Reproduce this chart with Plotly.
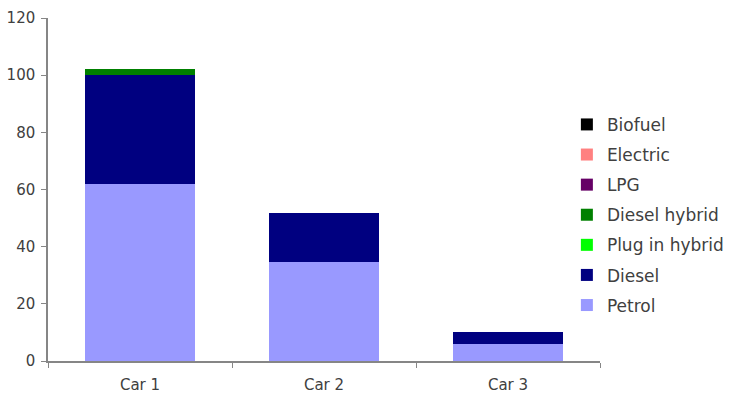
import plotly.graph_objects as go

categories = ["Car 1", "Car 2", "Car 3"]
petrol = [62, 34.6, 6]
diesel = [38, 17.2, 4.2]
plug_in_hybrid = [0, 0, 0]
diesel_hybrid = [2, 0, 0]
lpg = [0, 0, 0]
electric = [0, 0, 0]
biofuel = [0, 0, 0]

# stacked bottom to top; legend lists them top to bottom (rank)
series = [
    ("Petrol", petrol, "#9999FF", 7),
    ("Diesel", diesel, "#000080", 6),
    ("Plug in hybrid", plug_in_hybrid, "#00FF00", 5),
    ("Diesel hybrid", diesel_hybrid, "#008000", 4),
    ("LPG", lpg, "#660066", 3),
    ("Electric", electric, "#FF8080", 2),
    ("Biofuel", biofuel, "#000000", 1),
]

FONT = "'DejaVu Sans', sans-serif"
TEXT = "#404040"
AXIS = "#868686"

fig = go.Figure()
for name, vals, color, rank in series:
    fig.add_trace(go.Bar(
        x=categories, y=vals, name=name, legendgroup=name, legendrank=rank,
        marker=dict(color=color, line=dict(width=0)),
    ))

fig.update_layout(
    width=730, height=397,
    barmode="stack", bargap=0.4,
    plot_bgcolor="white", paper_bgcolor="white",
    margin=dict(l=48, r=130, t=18, b=36, autoexpand=False),
    font=dict(family=FONT, color=TEXT, size=15),
    showlegend=True,
    legend=dict(
        traceorder="grouped", tracegroupgap=5,
        x=0.94, xanchor="left", y=0.426, yanchor="middle",
        font=dict(size=17, color=TEXT, family=FONT),
        bgcolor="rgba(0,0,0,0)",
    ),
)
fig.update_xaxes(
    showline=True, linecolor=AXIS, linewidth=1.5,
    ticks="outside", tickson="boundaries", ticklen=5, tickcolor=AXIS,
    ticklabelstandoff=9,
    tickfont=dict(size=15, color=TEXT), showgrid=False,
)
fig.update_yaxes(
    range=[0, 120], dtick=20,
    showline=True, linecolor=AXIS, linewidth=1.5,
    ticks="outside", ticklen=5, tickcolor=AXIS,
    ticklabelstandoff=3,
    tickfont=dict(size=15, color=TEXT), showgrid=False, zeroline=False,
)

fig.write_html("out.html")
